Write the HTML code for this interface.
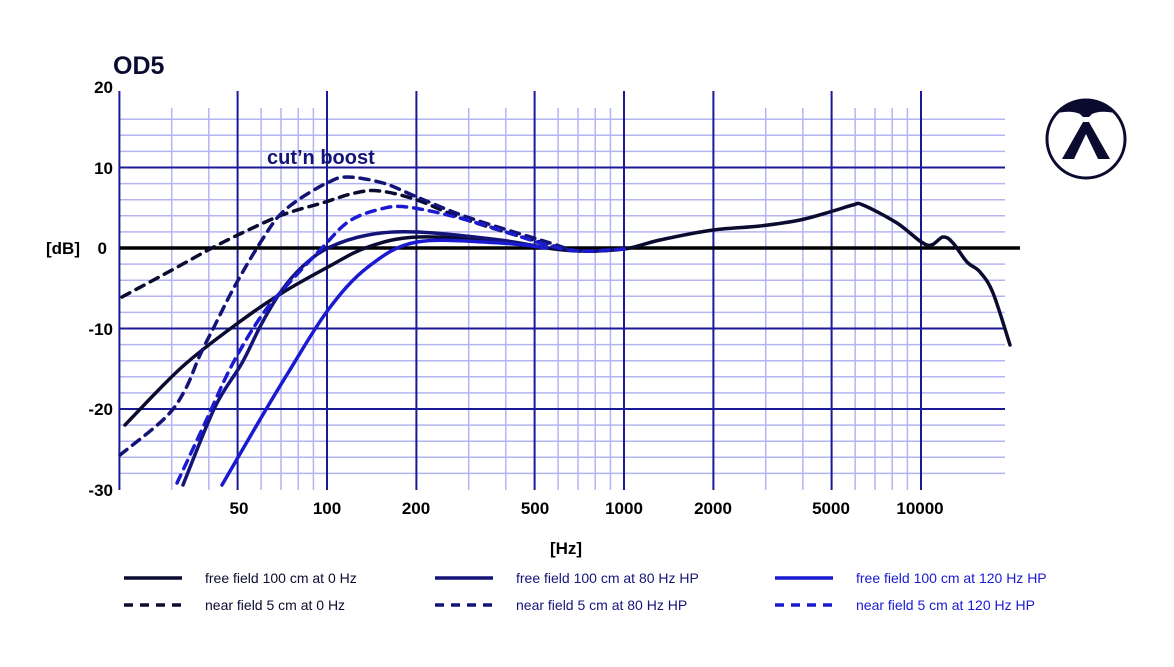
<!DOCTYPE html>
<html><head><meta charset="utf-8"><style>
html,body{margin:0;padding:0;background:#fff;}
svg{display:block;font-family:"Liberation Sans",sans-serif;}
</style></head><body>
<svg id="s" width="1174" height="667" viewBox="0 0 1174 667" xmlns="http://www.w3.org/2000/svg">
<g id="grid"></g>
<line x1="120" y1="248" x2="1020" y2="248" stroke="#000" stroke-width="3.5"/>
<g id="curves" fill="none" stroke-linecap="round" stroke-linejoin="round"></g>
<text x="113" y="74" font-size="25" font-weight="bold" fill="#0b0b30">OD5</text>
<text x="267" y="164" font-size="20" font-weight="bold" fill="#141478">cut’n boost</text>
<g font-size="17" font-weight="bold" fill="#000" text-anchor="end">
<text x="113" y="93">20</text><text x="113" y="174">10</text><text x="107" y="254">0</text>
<text x="113" y="335">-10</text><text x="113" y="415">-20</text><text x="113" y="496">-30</text>
<text x="80" y="254">[dB]</text>
</g>
<g font-size="17" font-weight="bold" fill="#000" text-anchor="middle">
<text x="239" y="514">50</text><text x="327" y="514">100</text><text x="416" y="514">200</text>
<text x="535" y="514">500</text><text x="624" y="514">1000</text><text x="713" y="514">2000</text>
<text x="831" y="514">5000</text><text x="920" y="514">10000</text>
<text x="566" y="554">[Hz]</text>
</g>
<g font-size="14">
<line x1="124" y1="578" x2="182" y2="578" stroke="#0b0b30" stroke-width="3.5"/>
<text x="205" y="583" fill="#0b0b30">free field 100 cm at 0 Hz</text>
<line x1="124" y1="605" x2="182" y2="605" stroke="#0b0b30" stroke-width="3.5" stroke-dasharray="9,7"/>
<text x="205" y="610" fill="#0b0b30">near field 5 cm at 0 Hz</text>
<line x1="435" y1="578" x2="493" y2="578" stroke="#141478" stroke-width="3.5"/>
<text x="516" y="583" fill="#141478">free field 100 cm at 80 Hz HP</text>
<line x1="435" y1="605" x2="493" y2="605" stroke="#141478" stroke-width="3.5" stroke-dasharray="9,7"/>
<text x="516" y="610" fill="#141478">near field 5 cm at 80 Hz HP</text>
<line x1="775" y1="578" x2="833" y2="578" stroke="#1a1ad0" stroke-width="3.5"/>
<text x="856" y="583" fill="#1a1ad0">free field 100 cm at 120 Hz HP</text>
<line x1="775" y1="605" x2="833" y2="605" stroke="#1a1ad0" stroke-width="3.5" stroke-dasharray="9,7"/>
<text x="856" y="610" fill="#1a1ad0">near field 5 cm at 120 Hz HP</text>
</g>
<g>
<circle cx="1086" cy="139" r="39" fill="none" stroke="#0b0b30" stroke-width="3"/>
<path d="M1057,113 A39,39 0 0 1 1115,113 Q1100,110 1092,114 L1089,117 L1083,117 L1080,114 Q1072,110 1057,113 Z" fill="#0b0b30"/>
<path d="M1083,122 L1089,122 L1110,159 L1098,159 L1086,134 L1074,159 L1062,159 Z" fill="#0b0b30"/>
</g>
</svg>
<script>
const NS="http://www.w3.org/2000/svg";
const X=f=>327+297*Math.log10(f/100);
const g=document.getElementById('grid');
function ln(x1,y1,x2,y2,c,w){const l=document.createElementNS(NS,'line');l.setAttribute('x1',x1);l.setAttribute('y1',y1);l.setAttribute('x2',x2);l.setAttribute('y2',y2);l.setAttribute('stroke',c);l.setAttribute('stroke-width',w);g.appendChild(l);}
const minorC="#b4b4f2", majC="#1a1a99";
for(let dB=16;dB>=-28;dB-=2){if(dB%10==0)continue;const y=248-8.05*dB;ln(120,y,1005,y,minorC,1.5);}
[30,40,60,70,80,90,300,400,600,700,800,900,3000,4000,6000,7000,8000,9000].forEach(f=>ln(X(f),108,X(f),490,minorC,1.5));
[10,-10,-20].forEach(dB=>{const y=248-8.05*dB;ln(120,y,1005,y,majC,2);});
[20,50,100,200,500,1000,2000,5000,10000].forEach(f=>ln(X(f),91,X(f),490,majC,2));
const tail=[[580,251],[624,249],[660,240],[713,230],[760,226],[800,220],[833,211],[853,205],[863,205],[897,223],[927,245],[943,237],[953,243],[967,262],[980,272],[993,293],[1010,345]];
const curves=[
 {c:"#0b0b30",d:null,p:[[125,425],[182,367],[238,323],[282,293],[328,267],[368,247],[417,237],[500,241],[547,248]],t:true},
 {c:"#141478",d:null,p:[[183,485],[215,407],[242,363],[262,323],[282,290],[302,267],[328,248],[368,235],[417,232],[500,240],[547,248]]},
 {c:"#1a1ad0",d:null,p:[[222,485],[258,423],[288,373],[328,310],[368,267],[417,242],[500,243],[547,248]]},
 {c:"#0b0b30",d:"9,7",p:[[122,297],[172,270],[212,248],[242,233],[282,215],[322,203],[355,193],[380,191],[417,200],[467,220],[547,244],[580,251],[624,249]]},
 {c:"#141478",d:"9,7",p:[[120,455],[165,418],[185,390],[200,355],[215,325],[230,295],[245,268],[262,240],[278,217],[298,200],[327,183],[347,177],[383,183],[417,197],[467,217],[547,242],[580,251],[624,249]]},
 {c:"#1a1ad0",d:"9,7",p:[[177,483],[205,423],[232,365],[262,315],[290,282],[322,248],[348,222],[377,210],[407,207],[467,220],[547,245],[580,251],[624,249]]}
];
function path(pts){let s="M"+pts[0][0]+","+pts[0][1];for(let i=0;i<pts.length-1;i++){const p0=pts[i-1]||pts[i],p1=pts[i],p2=pts[i+1],p3=pts[i+2]||p2;
 const c1=[p1[0]+(p2[0]-p0[0])/6,p1[1]+(p2[1]-p0[1])/6],c2=[p2[0]-(p3[0]-p1[0])/6,p2[1]-(p3[1]-p1[1])/6];
 s+=`C${c1[0].toFixed(1)},${c1[1].toFixed(1)} ${c2[0].toFixed(1)},${c2[1].toFixed(1)} ${p2[0]},${p2[1]}`;}return s;}
const cg=document.getElementById('curves');
curves.forEach(c=>{const pts=c.t?c.p.concat(tail):c.p;const e=document.createElementNS(NS,'path');e.setAttribute('d',path(pts));e.setAttribute('stroke',c.c);e.setAttribute('stroke-width','3.5');if(c.d)e.setAttribute('stroke-dasharray',c.d);cg.appendChild(e);});
</script>
</body></html>
